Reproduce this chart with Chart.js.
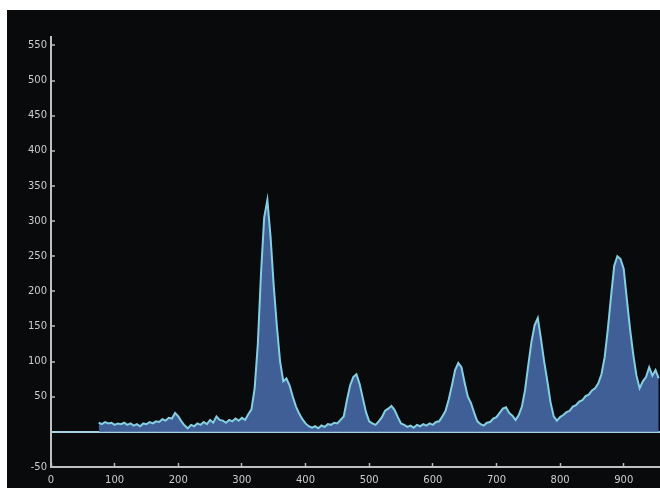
<!DOCTYPE html>
<html>
<head>
<meta charset="utf-8">
<script src="https://cdn.jsdelivr.net/npm/chart.js@4.4.1/dist/chart.umd.min.js"></script>
<style>
html,body{margin:0;padding:0;background:#ffffff;}
#wrap{width:660px;height:488px;}
</style>
</head>
<body>
<div id="wrap"><canvas id="c" width="660" height="488"></canvas></div>
<script>
// Spectrum positions (x) and intensities (y)
const positions = [75,80,85,90,95,100,105,110,115,120,125,130,135,140,145,150,155,160,165,170,
175,180,185,190,195,200,205,210,215,220,225,230,235,240,245,250,255,260,265,270,
275,280,285,290,295,300,305,310,315,320,325,330,335,340,345,350,355,360,365,370,
375,380,385,390,395,400,405,410,415,420,425,430,435,440,445,450,455,460,465,470,
475,480,485,490,495,500,505,510,515,520,525,530,535,540,545,550,555,560,565,570,
575,580,585,590,595,600,605,610,615,620,625,630,635,640,645,650,655,660,665,670,
675,680,685,690,695,700,705,710,715,720,725,730,735,740,745,750,755,760,765,770,
775,780,785,790,795,800,805,810,815,820,825,830,835,840,845,850,855,860,865,870,
875,880,885,890,895,900,905,910,915,920,925,930,935,940,945,950,955];
const intensity = [13,11,14,12,13,10,12,11,13,10,12,9,11,8,12,11,14,12,15,14,
18,16,20,19,27,22,15,9,5,10,8,12,10,14,11,17,13,22,17,16,
13,17,15,19,16,20,17,25,32,62,125,225,305,330,278,208,150,100,72,76,
66,50,36,26,18,12,8,6,8,5,9,7,11,10,13,12,17,22,45,66,
78,82,68,48,28,15,12,10,15,21,30,33,37,31,21,12,10,7,9,6,
10,8,11,9,12,10,14,15,22,30,46,66,88,98,92,70,50,41,27,15,
11,9,13,14,19,21,27,33,35,27,23,17,24,36,60,95,128,152,162,132,
100,72,42,22,16,21,24,28,30,36,38,43,45,51,53,59,62,69,82,106,
146,192,236,250,246,232,188,146,110,80,62,72,78,92,80,88,76];
// Axis tick values
const xTicks = [0,100,200,300,400,500,600,700,800,900];
const yTicks = [-50,0,50,100,150,200,250,300,350,400,450,500,550];
const xMin = 0, xMax = 957, yMin = -50, yMax = 562;

const points = positions.map((p, i) => ({x: p, y: intensity[i]}));

const bgPlugin = {
  id: 'bg',
  beforeDraw(chart) {
    const ctx = chart.ctx;
    ctx.save();
    ctx.fillStyle = '#ffffff';
    ctx.fillRect(0, 0, chart.width, chart.height);
    ctx.fillStyle = '#090a0b';
    ctx.fillRect(7, 10, chart.width - 7, chart.height - 10);
    ctx.restore();
  }
};

new Chart(document.getElementById('c'), {
  type: 'line',
  data: {
    datasets: [{
      data: points,
      borderColor: '#84d0e2',
      borderWidth: 2,
      backgroundColor: '#3f5f96',
      fill: 'origin',
      pointRadius: 0,
      tension: 0
    }]
  },
  options: {
    responsive: false,
    animation: false,
    devicePixelRatio: 1,
    layout: {padding: {left: 0, right: 0, top: 37, bottom: 0}},
    plugins: {legend: {display: false}, tooltip: {enabled: false}},
    scales: {
      x: {
        type: 'linear',
        min: xMin, max: xMax,
        afterBuildTicks(scale) { scale.ticks = xTicks.map(v => ({value: v})); },
        afterFit(scale) { scale.height = 21; },
        ticks: {
          includeBounds: false,
          color: '#cccccc',
          font: {family: 'DejaVu Sans', size: 10},
          padding: 11,
          maxRotation: 0,
          autoSkip: false
        },
        grid: {
          drawOnChartArea: false,
          drawTicks: true,
          tickLength: -4,
          tickColor: '#b8b8b8',
          tickWidth: 1.5
        },
        border: {display: true, color: '#c0c0c0', width: 2}
      },
      y: {
        type: 'linear',
        min: yMin, max: yMax,
        afterBuildTicks(scale) { scale.ticks = yTicks.map(v => ({value: v})); },
        afterFit(scale) { scale.width = 51; },
        ticks: {
          includeBounds: false,
          color: '#cccccc',
          font: {family: 'DejaVu Sans', size: 10},
          padding: 8,
          autoSkip: false,
          callback: (v) => v === 0 ? '' : String(v)
        },
        grid: {
          drawOnChartArea: true,
          drawTicks: true,
          tickLength: -4,
          tickColor: (c) => c.tick && c.tick.value === 0 ? 'transparent' : '#b8b8b8',
          tickWidth: 1.5,
          color: (c) => c.tick && c.tick.value === 0 ? '#a2d4e4' : 'transparent',
          lineWidth: (c) => c.tick && c.tick.value === 0 ? 2 : 0
        },
        border: {display: true, color: '#c0c0c0', width: 2}
      }
    }
  },
  plugins: [bgPlugin]
});
</script>
</body>
</html>
